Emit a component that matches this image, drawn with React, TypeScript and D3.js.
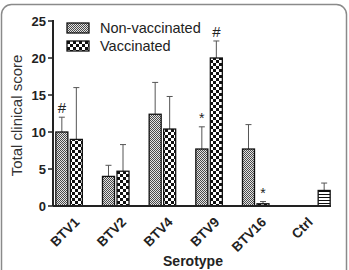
import React from "react";
import * as d3 from "d3";

const categories = ["BTV1", "BTV2", "BTV4", "BTV9", "BTV16", "Ctrl"];
const series = ["Non-vaccinated", "Vaccinated", "Ctrl"];
const nonVaccinated = [10, 4, 12.4, 7.7, 7.7, null];
const nonVaccinatedErr = [12, 5.5, 16.7, 10.7, 11, null];
const vaccinated = [9, 4.7, 10.4, 20, 0.3, null];
const vaccinatedErr = [16, 8.3, 14.8, 22.3, 0.6, null];
const control = [null, null, null, null, null, 2.1];
const controlErr = [null, null, null, null, null, 3.1];
const yTicks = [0, 5, 10, 15, 20, 25];
// significance marks: [category, series, symbol]
const marks: [string, string, string][] = [
  ["BTV1", "Non-vaccinated", "#"],
  ["BTV9", "Non-vaccinated", "*"],
  ["BTV9", "Vaccinated", "#"],
  ["BTV16", "Vaccinated", "*"],
];

const W = 349;
const H = 270;
const m = { l: 53, r: 16, t: 21, b: 64 };

const fills: Record<string, string> = {
  "Non-vaccinated": "url(#pat-fine)",
  Vaccinated: "url(#pat-check)",
  Ctrl: "url(#pat-stripe)",
};

export default function App() {
  const x = d3.scaleBand<string>().domain(categories).range([m.l, W - m.r]).padding(0);
  const xi = d3
    .scaleBand<string>()
    .domain(series)
    .range([0, x.step()])
    .paddingInner(0.172)
    .paddingOuter(0.195);
  const y = d3.scaleLinear().domain([0, 25]).range([H - m.b, m.t]);

  const rows = series.map((s, si) => {
    const vals = [nonVaccinated, vaccinated, control][si];
    const errs = [nonVaccinatedErr, vaccinatedErr, controlErr][si];
    return categories
      .map((c, i) => ({ c, s, v: vals[i], e: errs[i] }))
      .filter((d) => d.v != null) as { c: string; s: string; v: number; e: number }[];
  });
  const bars = rows.flat();
  const bw = xi.bandwidth();
  const font = "'Liberation Sans', Arial, sans-serif";

  return (
    <svg width={W} height={H} style={{ position: "absolute", left: 0, top: 0 }} fontFamily={font}>
      <defs>
        <pattern id="pat-fine" width="2" height="2" patternUnits="userSpaceOnUse">
          <rect width="2" height="2" fill="#e4e4e4" />
          <rect width="1" height="1" fill="#4a4a4a" />
          <rect x="1" y="1" width="1" height="1" fill="#4a4a4a" />
        </pattern>
        <pattern id="pat-check" width="6" height="6" patternUnits="userSpaceOnUse">
          <rect width="6" height="6" fill="#fff" />
          <rect width="3" height="3" fill="#111" />
          <rect x="3" y="3" width="3" height="3" fill="#111" />
        </pattern>
        <pattern id="pat-stripe" width="4" height="3" patternUnits="userSpaceOnUse">
          <rect width="4" height="3" fill="#fff" />
          <rect y="2" width="4" height="1" fill="#111" />
        </pattern>
      </defs>
      <rect x={1.5} y={4.5} width={W - 4} height={H + 20} rx={10} fill="#fff" stroke="#8a8a8a" strokeWidth={1.5} />

      {/* error bars (upper only) */}
      {bars.map((d) => {
        const cx = x(d.c)! + xi(d.s)! + bw / 2;
        return (
          <g key={"e" + d.c + d.s} stroke="#555" strokeWidth={1}>
            <line x1={cx} x2={cx} y1={y(d.v)} y2={y(d.e)} />
            <line x1={cx - 3} x2={cx + 3} y1={y(d.e)} y2={y(d.e)} />
          </g>
        );
      })}

      {bars.map((d) => (
        <rect
          key={d.c + d.s}
          x={x(d.c)! + xi(d.s)!}
          y={y(d.v)}
          width={bw}
          height={y(0) - y(d.v)}
          fill={fills[d.s]}
          stroke="#111"
          strokeWidth={1.3}
        />
      ))}

      {marks.map(([c, s, sym]) => {
        const d = bars.find((b) => b.c === c && b.s === s)!;
        const cx = x(c)! + xi(s)! + bw / 2;
        return (
          <text
            key={c + s + sym}
            x={cx}
            y={y(d.e) - 4}
            textAnchor="middle"
            fontSize={sym === "#" ? 15 : 14}
            fill="#222"
          >
            {sym}
          </text>
        );
      })}

      {/* y axis */}
      <line x1={m.l} x2={m.l} y1={y(25) - 1} y2={y(0)} stroke="#222" strokeWidth={2} />
      {yTicks.map((t) => (
        <g key={t}>
          <line x1={m.l - 5} x2={m.l} y1={y(t)} y2={y(t)} stroke="#222" strokeWidth={1.5} />
          <text x={m.l - 7} y={y(t) + 4.5} textAnchor="end" fontSize={13} fontWeight="bold" fill="#222">
            {t}
          </text>
        </g>
      ))}
      <text
        transform={`translate(22,${(y(0) + y(25)) / 2 + 2}) rotate(-90)`}
        textAnchor="middle"
        fontSize={15}
        fill="#333"
      >
        Total clinical score
      </text>

      {/* x axis */}
      <line x1={m.l} x2={W - m.r - 2} y1={y(0)} y2={y(0)} stroke="#222" strokeWidth={2} />
      {categories.map((c) => (
        <text
          key={c}
          transform={`translate(${x(c)! + xi("Vaccinated")! + bw / 2 + 4},${y(0) + 17}) rotate(-45)`}
          textAnchor="end"
          fontSize={13.5}
          fontWeight="bold"
          fill="#222"
        >
          {c}
        </text>
      ))}
      <text x={(m.l + W - m.r) / 2} y={266} textAnchor="middle" fontSize={14} fontWeight="bold" fill="#222">
        Serotype
      </text>

      {/* legend */}
      {series.slice(0, 2).map((s, i) => (
        <g key={s} transform={`translate(67,${23 + i * 18})`}>
          <rect width={22} height={10} fill={fills[s]} stroke="#111" strokeWidth={1.3} />
          <text x={33} y={10} fontSize={14.5} fill="#222">
            {s}
          </text>
        </g>
      ))}
    </svg>
  );
}
